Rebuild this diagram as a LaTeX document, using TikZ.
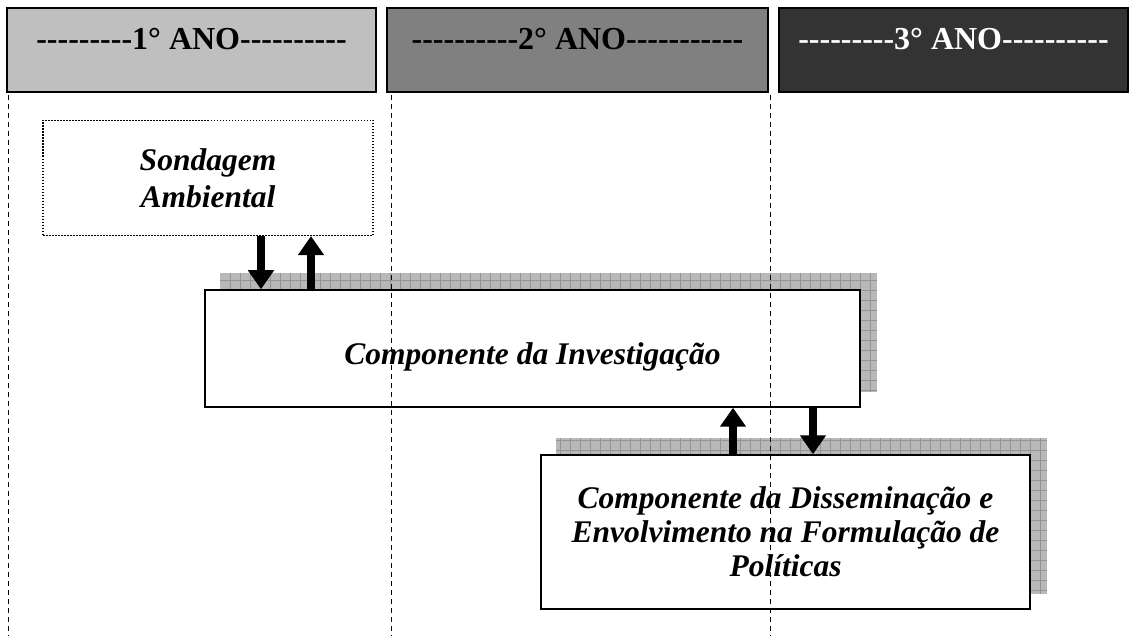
\documentclass[tikz,border=0pt]{standalone}
\usepackage{fontspec}
\setmainfont{Liberation Serif}[Ligatures=TeXOff]
\usetikzlibrary{arrows.meta, backgrounds}

\newcommand\meshbox[1]{%
  \begin{scope}[on background layer]
    \fill[mesh] ([shift={(16,-16)}]#1.south west) rectangle ([shift={(16,-16)}]#1.north east);
    \draw[mesh line] ([shift={(16,-16)}]#1.south west) grid ([shift={(16,-16)}]#1.north east);
  \end{scope}}

\begin{document}
\begin{tikzpicture}
  [
    x=1pt, y=-1pt,
    year/.style={draw=black, line width=1.5pt, minimum height=84pt, inner sep=0pt,
      font=\fontsize{32}{36}\selectfont\bfseries, text height=21pt, text depth=21pt},
    stage/.style={draw=black, line width=1.5pt, fill=white, inner sep=0pt, align=center,
      font=\fontsize{31.5}{34}\selectfont\bfseries\itshape},
    flow/.style={line width=8pt, -{Triangle[width=25pt,length=19pt]}},
    split/.style={black, line width=0.8pt, dash pattern=on 5pt off 4pt},
    mesh/.style={fill=black!28},
    mesh line/.style={step=10pt, black!42, line width=0.5pt}
  ]
  \useasboundingbox (0,0) rectangle (1136,636);
  % years
  \node[year, fill=black!25, minimum width=369pt] (ano1) at (191.5,50) {---------1° ANO----------};
  \node[year, fill=black!50, minimum width=381pt] (ano2) at (577.5,50) {----------2° ANO-----------};
  \node[year, fill=black!80, text=white, minimum width=349pt] (ano3) at (953.5,50) {---------3° ANO----------};
  % stages
  \node[stage, line width=1.2pt, dash pattern=on 1.5pt off 1.5pt, minimum width=330pt, minimum height=115pt,
    font=\fontsize{31.5}{37}\selectfont\bfseries\itshape] (sond) at (208,178) {Sondagem\\Ambiental};
  \node[stage, minimum width=655pt, minimum height=117pt, text height=32pt, text depth=0pt]
    (inv) at (532.5,348.5) {Componente da Investigação};
  \node[stage, minimum width=489pt, minimum height=154pt] (dis) at (785.5,532)
    {Componente da Disseminação e\\Envolvimento na Formulação de\\Políticas};
  \meshbox{inv}
  \meshbox{dis}
  % flows
  \draw[flow] ([xshift=53pt]sond.south) -- ([xshift=53pt]sond.south |- inv.north);
  \draw[flow] ([xshift=103pt]sond.south |- inv.north) -- ([xshift=103pt]sond.south);
  \draw[flow] ([xshift=200.5pt]inv.south |- dis.north) -- ([xshift=200.5pt]inv.south);
  \draw[flow] ([xshift=280.5pt]inv.south) -- ([xshift=280.5pt]inv.south |- dis.north);
  % year limits
  \foreach \x in {8,391,770} {
    \draw[split] (\x,95) -- (\x,636);
  }
\end{tikzpicture}
\end{document}
